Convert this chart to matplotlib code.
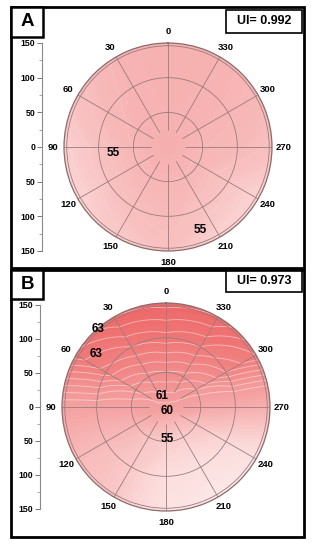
import numpy as np
import matplotlib
matplotlib.use("Agg")
import matplotlib.pyplot as plt
from matplotlib.colors import LinearSegmentedColormap, Normalize
from matplotlib.patches import Rectangle
from matplotlib.ticker import MultipleLocator, FuncFormatter

plt.rcParams['font.family'] = ['Liberation Sans', 'DejaVu Sans']

# ---------------- data ----------------
theta_deg = [0, 30, 60, 90, 120, 150, 180, 210, 240, 270, 300, 330]
theta_labels = [str(a) for a in theta_deg]
radii = [0, 50, 100, 150]
ytick_vals = [-150, -100, -50, 0, 50, 100, 150]

# Panel A (UI = 0.992)
a_center = 56.8
a_r50 = [56.4, 56.4, 56.2, 56.0, 55.9, 56.0, 56.0, 55.9, 55.8, 56.0, 56.2, 56.4]
a_r100 = [56.5, 56.3, 55.6, 54.6, 54.4, 55.0, 55.4, 54.6, 54.2, 55.6, 56.1, 56.4]
a_r150 = [56.6, 56.2, 54.6, 52.6, 52.2, 53.6, 54.6, 52.6, 52.2, 54.8, 55.8, 56.4]
ui_a = "UI= 0.992"

# Panel B (UI = 0.973)
b_center = 60.3
b_r50 = [62.0, 61.8, 61.2, 60.0, 58.2, 56.2, 55.0, 55.0, 56.5, 59.5, 61.0, 61.8]
b_r100 = [63.8, 63.5, 62.8, 60.0, 57.5, 55.5, 52.5, 52.0, 53.5, 59.0, 62.5, 63.5]
b_r150 = [65.2, 65.0, 63.8, 60.0, 57.5, 56.0, 51.5, 50.5, 51.5, 58.5, 63.5, 65.0]
ui_b = "UI= 0.973"

# contour labels: (text, angle deg, radius)
a_labels = [("55", 96, 80), ("55", 201, 128)]
b_labels = [("63", 53, 126), ("63", 41, 150), ("61", 18, 16), ("60", 190, 6), ("55", 183, 46)]

# ---------------- styling ----------------
W, H = 313, 550
cmap = LinearSegmentedColormap.from_list(
    "pinkred",
    [(0.0, "#fdebeb"), (4 / 16, "#fbd6d6"), (8 / 16, "#f7b6b6"),
     (11 / 16, "#f39898"), (13.5 / 16, "#f07a7a"), (1.0, "#ec5f5f")])
norm_a = Normalize(vmin=48, vmax=64)
norm_b = Normalize(vmin=50, vmax=66)

fig = plt.figure(figsize=(W / 100, H / 100), dpi=100)


def frect(x0, y0, x1, y1):
    return [x0 / W, 1 - y1 / H, (x1 - x0) / W, (y1 - y0) / H]


def curve_paths(cs, steps=40):
    for p in cs.get_paths():
        p._interpolation_steps = steps


def panel(pbox, lbox, uibox, letter, uitext, polar_box, yaxis_box,
          center, r50, r100, r150, labels, norm, line_levels, lines_alpha):
    # outer frame
    x0, y0, x1, y1 = pbox
    fig.add_artist(Rectangle((x0 / W, 1 - y1 / H), (x1 - x0) / W, (y1 - y0) / H,
                             transform=fig.transFigure, fill=False, lw=2.0,
                             ec="black", zorder=10))
    # letter box
    x0, y0, x1, y1 = lbox
    fig.add_artist(Rectangle((x0 / W, 1 - y1 / H), (x1 - x0) / W, (y1 - y0) / H,
                             transform=fig.transFigure, fc="white", lw=1.8,
                             ec="black", zorder=11))
    fig.text((x0 + x1) / 2 / W, 1 - (y0 + y1) / 2 / H, letter, ha="center",
             va="center", fontsize=13.5, weight="bold", zorder=12)
    # UI box
    x0, y0, x1, y1 = uibox
    fig.add_artist(Rectangle((x0 / W, 1 - y1 / H), (x1 - x0) / W, (y1 - y0) / H,
                             transform=fig.transFigure, fc="white", lw=1.2,
                             ec="black", zorder=11))
    fig.text((x0 + x1) / 2 / W, 1 - (y0 + y1) / 2 / H, uitext, ha="center",
             va="center", fontsize=9, weight="bold", zorder=12)

    # polar field
    ax = fig.add_axes(frect(*polar_box), projection="polar")
    ax.set_theta_zero_location("N")
    ax.set_theta_direction(1)
    ax.set_facecolor(cmap(norm(np.mean(r150))))
    T, R = np.meshgrid(np.deg2rad(theta_deg + [360]), radii)
    rows = [[center] * 12, r50, r100, r150]
    Z = np.array([row + [row[0]] for row in rows])
    cs = ax.contourf(T, R, Z, levels=np.linspace(46, 68, 111), cmap=cmap,
                     norm=norm, zorder=0.5)
    curve_paths(cs)
    cl = ax.contour(T, R, Z, levels=line_levels, colors="white",
                    linewidths=0.6, alpha=lines_alpha, zorder=0.6)
    curve_paths(cl)
    ax.set_ylim(0, 150)
    ax.set_rgrids([50, 100, 146], labels=[])
    ax.yaxis.grid(True, color="#9a7c7c", lw=0.6)
    ax.xaxis.grid(False)
    ax.vlines(np.deg2rad(theta_deg), 24, 150, color="#9a7c7c", lw=0.6, zorder=1.6)
    ax.set_thetagrids(theta_deg, labels=theta_labels)
    ax.tick_params(axis="x", labelsize=6.8, pad=-2.5)
    for t in ax.get_xticklabels():
        t.set_fontweight("bold")
    ax.spines["polar"].set_color("#8c6c6c")
    ax.spines["polar"].set_linewidth(0.9)
    for txt, ang, r in labels:
        ax.text(np.deg2rad(ang), r, txt, ha="center", va="center", fontsize=8.5,
                weight="bold", zorder=5)

    # vertical scale
    ay = fig.add_axes(frect(*yaxis_box))
    ay.set_ylim(-150, 150)
    ay.set_xlim(0, 1)
    for s in ["top", "right", "bottom"]:
        ay.spines[s].set_visible(False)
    ay.spines["left"].set_color("#8a8a8a")
    ay.spines["left"].set_linewidth(0.8)
    ay.patch.set_visible(False)
    ay.set_xticks([])
    ay.set_yticks(ytick_vals)
    ay.yaxis.set_major_formatter(FuncFormatter(lambda v, p: f"{abs(int(v))}"))
    ay.yaxis.set_minor_locator(MultipleLocator(25))
    ay.tick_params(axis="y", which="major", length=3.5, width=0.7,
                   color="#777777", labelsize=6.3, pad=1.5)
    ay.tick_params(axis="y", which="minor", length=2, width=0.6, color="#999999")
    for t in ay.get_yticklabels():
        t.set_fontweight("bold")


panel(pbox=(11, 7, 304, 268), lbox=(11, 7, 43, 37), uibox=(226, 10, 302, 33),
      letter="A", uitext=ui_a, polar_box=(64, 43, 272, 251),
      yaxis_box=(42, 43, 42.2, 251), center=a_center, r50=a_r50, r100=a_r100,
      r150=a_r150, labels=a_labels, norm=norm_a,
      line_levels=np.arange(53, 57, 1.0), lines_alpha=0.15)

panel(pbox=(11, 270, 304, 537), lbox=(11, 270, 43, 299), uibox=(226, 271, 302, 292),
      letter="B", uitext=ui_b, polar_box=(62, 303, 270, 511),
      yaxis_box=(40, 305, 40.2, 509), center=b_center, r50=b_r50, r100=b_r100,
      r150=b_r150, labels=b_labels, norm=norm_b,
      line_levels=np.arange(60.5, 65.5, 0.5), lines_alpha=0.5)

fig.savefig("out.png", dpi=100)
